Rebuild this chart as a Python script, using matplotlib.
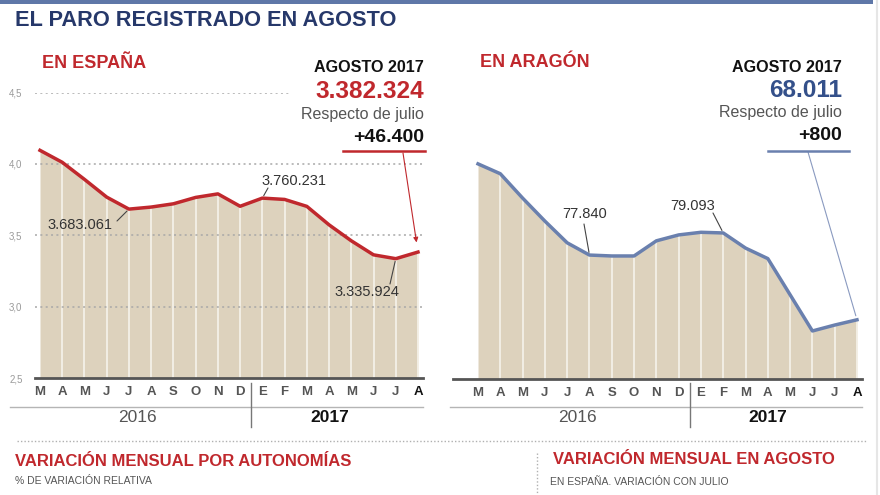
import matplotlib
matplotlib.use("Agg")
import matplotlib.pyplot as plt
from matplotlib.lines import Line2D
from matplotlib.patches import Rectangle

plt.rcParams['font.family'] = ['Liberation Sans', 'DejaVu Sans']

# ---------------- data ----------------
months = ["M", "A", "M", "J", "J", "A", "S", "O", "N", "D",
          "E", "F", "M", "A", "M", "J", "J", "A"]
years = ["2016", "2017"]
# Paro registrado en España (millones), marzo 2016 - agosto 2017
espana = [4.0948, 4.0110, 3.8914, 3.7671, 3.6831, 3.6975, 3.7203, 3.7650,
          3.7898, 3.7030, 3.7602, 3.7509, 3.7023, 3.5730, 3.4611, 3.3628,
          3.3359, 3.3823]
# Paro registrado en Aragón (miles) (eje sin escala)
aragon = [91.7, 90.2, 86.5, 83.0, 79.7, 77.84, 77.7, 77.7, 80.0, 80.9,
          81.3, 81.2, 78.9, 77.3, 71.8, 66.3, 67.2, 68.0]
esp_ticks = [2.5, 3.0, 3.5, 4.0, 4.5]
esp_ticklabels = ["2,5", "3,0", "3,5", "4,0", "4,5"]

W, H = 880, 495
RED = "#c0282d"
BLUE = "#6a80ae"
BLUE_TXT = "#34508a"
NAVY = "#26386a"
BEIGE = "#ddd2bd"
GRID = "#a8a8a8"

fig = plt.figure(figsize=(W / 100, H / 100), dpi=100)
fig.patch.set_facecolor("white")


def P(x, y):
    return (x / W, 1 - y / H)


def fline(x1, y1, x2, y2, **kw):
    fig.add_artist(Line2D([x1 / W, x2 / W], [1 - y1 / H, 1 - y2 / H],
                          transform=fig.transFigure, **kw))


def ftext(x, y, s, **kw):
    fig.text(x / W, 1 - y / H, s, **kw)


def axes_px(x0, x1, ytop, ybot):
    return fig.add_axes([x0 / W, 1 - ybot / H, (x1 - x0) / W, (ybot - ytop) / H])


xs = list(range(len(months)))

# ---------------- left chart: España ----------------
axL = axes_px(35, 423, 92.5, 378)
axL.set_xlim(-5 / 22.235, 17 + 5 / 22.235)
axL.set_ylim(2.5, 4.5)
axL.fill_between(xs, 2.5, espana, color=BEIGE, lw=0, zorder=1)
axL.vlines(xs[1:], 2.5, espana[1:], color="#f4f0e8", lw=1.3, zorder=1.5)
for t in esp_ticks[1:]:
    xmax = 0.657 if t == 4.5 else 1.0
    axL.axhline(t, xmin=0, xmax=xmax, color=GRID, lw=1.1,
                linestyle=(0, (1.3, 2.2)), zorder=2)
axL.plot(xs, espana, color=RED, lw=2.5, zorder=3, solid_joinstyle="round")
axL.set_yticks(esp_ticks)
axL.set_yticklabels(esp_ticklabels, fontsize=7, color="#9a9a9a")

# ---------------- right chart: Aragón ----------------
axR = axes_px(453, 862, 92.5, 379)
axR.set_xlim(-(478 - 453) / 22.29, 17 + 5 / 22.29)
axR.set_ylim(59.0, 59.0 + (379 - 92.5) * 0.152)
axR.fill_between(xs, axR.get_ylim()[0], aragon, color=BEIGE, lw=0, zorder=1)
axR.vlines(xs[1:], axR.get_ylim()[0], aragon[1:], color="#f4f0e8", lw=1.3, zorder=1.5)
axR.plot(xs, aragon, color=BLUE, lw=2.5, zorder=3, solid_joinstyle="round")
axR.set_yticks([])

for ax in (axL, axR):
    ax.set_facecolor("none")
    for s in ("top", "left", "right"):
        ax.spines[s].set_visible(False)
    ax.spines["bottom"].set_color("#555555")
    ax.spines["bottom"].set_linewidth(2.0)
    ax.spines["bottom"].set_zorder(4)
    ax.set_xticks(xs)
    ax.set_xticklabels(months, fontsize=9.5, fontweight="bold", color="#555555")
    ax.get_xticklabels()[-1].set_color("#111111")
    ax.tick_params(axis="both", length=0, pad=5.5)
    ax.tick_params(axis="y", pad=9)

# year rows
fline(10, 406.5, 423, 406.5, color="#b5b5b5", lw=1.0)
fline(450, 406.5, 862, 406.5, color="#b5b5b5", lw=1.0)
for ax, xl, xr in ((axL, 137, 330), (axR, 577, 768)):
    sep_x = ax.transData.transform((9.5, 0))[0] / fig.dpi / fig.get_figwidth()
    fig.add_artist(Line2D([sep_x, sep_x], [1 - 383 / H, 1 - 427 / H],
                          transform=fig.transFigure, color="#777777", lw=1.0))
    ftext(xl, 418, years[0], fontsize=12.5, color="#555555", ha="center", va="center")
    ftext(xr, 418, years[1], fontsize=12.5, color="#111111", fontweight="bold",
          ha="center", va="center")

# ---------------- header ----------------
fig.add_artist(Rectangle((0, 1 - 4 / H), 873 / W, 4 / H, transform=fig.transFigure,
                         color="#5f77a8", lw=0))
fline(877, 0, 877, 495, color="#e6e6e6", lw=1.5)
ftext(15, 21, "EL PARO REGISTRADO EN AGOSTO", fontsize=15.7, fontweight="bold",
      color=NAVY, ha="left", va="center")
ftext(42, 64, "EN ESPAÑA", fontsize=13, fontweight="bold", color=RED,
      ha="left", va="center")
ftext(480, 63, "EN ARAGÓN", fontsize=13, fontweight="bold", color=RED,
      ha="left", va="center")

# left info block
ftext(424, 67, "AGOSTO 2017", fontsize=11.6, fontweight="bold", color="#111111",
      ha="right", va="center")
ftext(424, 91, "3.382.324", fontsize=17.6, fontweight="bold", color=RED,
      ha="right", va="center")
ftext(424, 115, "Respecto de julio", fontsize=11.5, color="#555555",
      ha="right", va="center")
ftext(424, 138, "+46.400", fontsize=14, fontweight="bold", color="#111111",
      ha="right", va="center")
fline(343, 151, 425, 151, color=RED, lw=1.8)
axL.annotate("", xy=(17, espana[-1]), xytext=P(403, 153), textcoords="figure fraction",
             arrowprops=dict(arrowstyle="-|>", color=RED, lw=0.8, shrinkA=0,
                             shrinkB=7, mutation_scale=7))

# right info block
ftext(842, 67, "AGOSTO 2017", fontsize=11.6, fontweight="bold", color="#111111",
      ha="right", va="center")
ftext(842, 90, "68.011", fontsize=17.6, fontweight="bold", color=BLUE_TXT,
      ha="right", va="center")
ftext(842, 113, "Respecto de julio", fontsize=11.5, color="#555555",
      ha="right", va="center")
ftext(842, 136, "+800", fontsize=14, fontweight="bold", color="#111111",
      ha="right", va="center")
fline(768, 150.5, 849, 150.5, color=BLUE, lw=1.8)
axR.annotate("", xy=(17, aragon[-1]), xytext=P(808, 152), textcoords="figure fraction",
             arrowprops=dict(arrowstyle="-", color="#8a9ac0", lw=0.8, shrinkA=0,
                             shrinkB=3))

# value labels
def label(ax, idx, vals, txt, tx, ty, lx, ly):
    ftext(tx, ty, txt, fontsize=10.5, color="#333333", ha="center", va="center")
    ax.annotate("", xy=(idx, vals[idx]), xytext=P(lx, ly), textcoords="figure fraction",
                arrowprops=dict(arrowstyle="-", color="#444444", lw=0.8,
                                shrinkA=0, shrinkB=2))

label(axL, 4, espana, "3.683.061", 80, 225, 117, 221)
label(axL, 10, espana, "3.760.231", 294, 181, 268, 188)
label(axL, 16, espana, "3.335.924", 367, 292, 390, 284)
label(axR, 5, aragon, "77.840", 585, 214, 584, 224)
label(axR, 11, aragon, "79.093", 693, 206, 713, 213)

# ---------------- bottom section ----------------
fline(17, 441, 866, 441, color="#b0b0b0", lw=1.0, linestyle=(0, (1, 1.5)))
fline(537, 453, 537, 495, color="#b0b0b0", lw=1.0, linestyle=(0, (1, 1.5)))
ftext(15, 461, "VARIACIÓN MENSUAL POR AUTONOMÍAS", fontsize=12, fontweight="bold",
      color=RED, ha="left", va="center")
ftext(15, 481, "% DE VARIACIÓN RELATIVA", fontsize=7.5, color="#555555",
      ha="left", va="center")
ftext(553, 460, "VARIACIÓN MENSUAL EN AGOSTO", fontsize=12, fontweight="bold",
      color=RED, ha="left", va="center")
ftext(550, 482, "EN ESPAÑA. VARIACIÓN CON JULIO", fontsize=7.5, color="#555555",
      ha="left", va="center")

fig.savefig("out.png", dpi=100)
